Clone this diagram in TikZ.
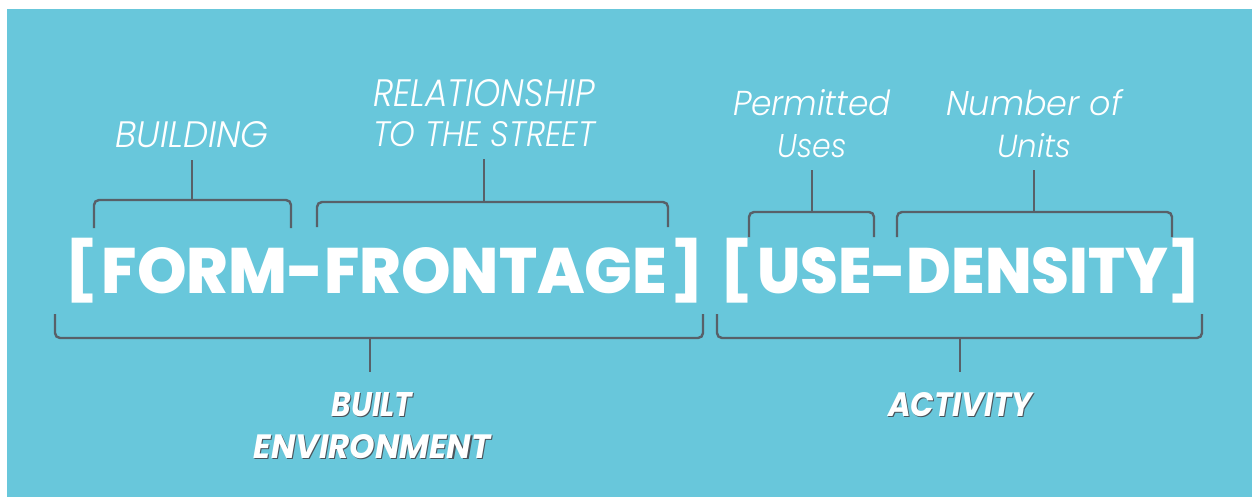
\documentclass[tikz,border=0pt]{standalone}
\usepackage{fontspec}
\usepackage{graphicx}
\setmainfont{Poppins}
\IfFontExistsTF{Poppins Light Italic}
  {\newfontfamily\lightfont{Poppins Light Italic}}
  {\newcommand{\lightfont}{\itshape}}
\IfFontExistsTF{Poppins ExtraBold}
  {\newfontfamily\heavyfont{Poppins ExtraBold}}
  {\newcommand{\heavyfont}{\bfseries}}

\definecolor{sky}{RGB}{104,199,219}
\definecolor{slate}{RGB}{88,96,104}
\definecolor{shade}{RGB}{74,84,92}

% squeeze one line of text into a w x h box (pt)
\newcommand{\fitline}[3]{\resizebox{#1pt}{#2pt}{#3}}
% white text with a small dark drop shadow
\newcommand{\dropshade}[1]{\makebox[0pt][l]{\kern1.2pt\raisebox{-1.2pt}{\color{shade}#1}}#1}

\begin{document}
\begin{tikzpicture}[x=1pt,y=-1pt,
  brk/.style={draw=slate,line width=2.4pt,rounded corners=5pt},
  stem/.style={draw=slate,line width=2pt},
  lbl/.style={inner sep=0pt,text=white,align=center,font=\lightfont\fontsize{36}{42}\selectfont},
  big/.style={inner sep=0pt,text=white,font=\heavyfont\fontsize{66}{70}\selectfont},
  grp/.style={inner sep=0pt,text=white,align=center,font=\bfseries\itshape\fontsize{34}{42}\selectfont}]

\useasboundingbox (0,0) rectangle (1252,497);
\fill[white] (0,0) rectangle (1252,497);
\fill[sky] (7,9) rectangle (1252,497);

% the two code words
\node[big] (lb1) at (81,270.5) {\resizebox*{32pt}{65pt}{[}};
\node[big] (ff) at (384.5,271) {\fitline{565}{46}{FORM-FRONTAGE}};
\node[big] (rb1) at (687,270.5) {\resizebox*{32pt}{65pt}{]}};
\node[big] (lb2) at (736,270.5) {\resizebox*{32pt}{65pt}{[}};
\node[big] (ud) at (962.5,271) {\fitline{411}{46}{USE-DENSITY}};
\node[big] (rb2) at (1184,270.5) {\resizebox*{32pt}{65pt}{]}};

% labels above
\node[lbl] (bld) at (192,135) {\fitline{153}{26}{BUILDING}};
\node[lbl] (rel) at (484,113.5) {\fitline{222}{27}{RELATIONSHIP}\\[-2pt]\fitline{222}{25}{TO THE STREET}};
\node[lbl] (per) at (812,124) {\fitline{158}{26}{Permitted}\\\fitline{69}{23}{Uses}};
\node[lbl] (num) at (1034,124) {\fitline{176}{26}{Number of}\\\fitline{74}{24}{Units}};

% labels below
\node[grp] (be) at (372,426) {\fitline{81}{24}{\dropshade{BUILT}}\\\fitline{237}{24}{\dropshade{ENVIRONMENT}}};
\node[grp] (act) at (960,405) {\fitline{144}{24}{\dropshade{ACTIVITY}}};

% small brackets
\coordinate (t1) at (192,200);
\coordinate (t2) at (484,202);
\coordinate (t3) at (812,212);
\coordinate (t4) at (1034,212);
\draw[brk] (94,228) |- (t1) -| (291,228);
\draw[brk] (317,227) |- (t2) -| (668,227);
\draw[brk] (749,237) |- (t3) -| (874,237);
\draw[brk] (897,237) |- (t4) -| (1172,237);
\draw[stem,shorten <=12pt] (bld.south -| t1) -- (t1);
\draw[stem,shorten <=12pt] (rel.south -| t2) -- (t2);
\draw[stem,shorten <=12pt] (per.south -| t3) -- (t3);
\draw[stem,shorten <=12pt] (num.south -| t4) -- (t4);

% big brackets
\coordinate (b1) at (370,338);
\coordinate (b2) at (960,338);
\draw[brk] (55,314) |- (b1) -| (703,314);
\draw[brk] (717,314) |- (b2) -| (1202,314);
\draw[stem,shorten >=20pt] (b1) -- (b1 |- be.north);
\draw[stem,shorten >=20pt] (b2) -- (b2 |- act.north);
\end{tikzpicture}
\end{document}
